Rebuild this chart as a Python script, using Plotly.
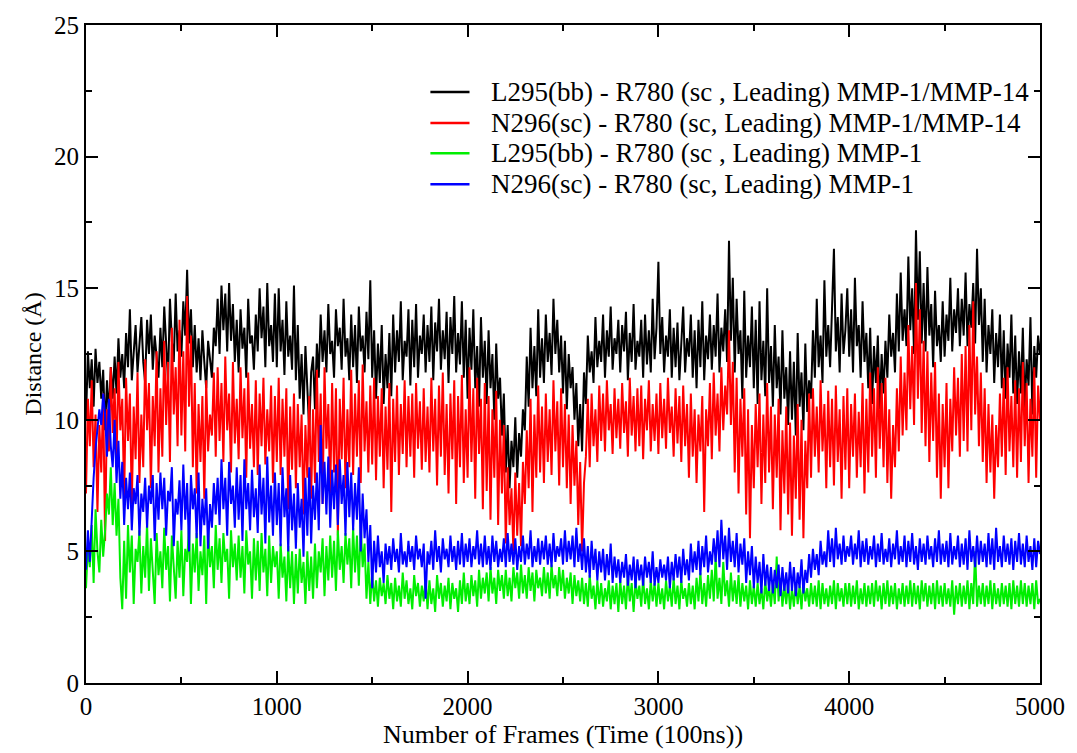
import plotly.graph_objects as go

FRAMES = list(range(0, 5001, 10))

BLACK = [
    10.0, 12.6, 11.2, 12.3, 10.5, 12.7, 11.4, 12.2, 10.8, 11.9,
    9.6, 11.5, 10.2, 12.0, 10.8, 12.4, 11.0, 13.1, 11.6, 12.5,
    11.2, 13.3, 12.0, 14.2, 11.5, 12.8, 13.6, 11.8, 12.9, 13.9,
    12.2, 11.4, 13.8, 12.5, 14.0, 11.9, 13.2, 12.4, 11.6, 13.5,
    12.0, 14.3, 12.8, 11.5, 14.6, 13.0, 12.2, 14.8, 12.6, 13.4,
    12.4, 14.5, 13.2, 15.7, 12.9, 14.2, 12.0, 13.6, 11.8, 13.1,
    11.5, 13.4, 12.2, 11.2, 13.0, 12.4, 11.6, 13.5, 12.8, 14.6,
    12.5, 15.1, 13.4, 14.8, 12.6, 15.2, 13.0, 14.4, 12.2, 13.8,
    11.8, 14.2, 12.7, 13.5, 11.6, 14.6, 12.9, 13.2, 11.9, 14.0,
    12.6, 15.0, 13.1, 14.3, 12.0, 15.2, 12.8, 13.6, 12.2, 14.8,
    12.0, 15.0, 12.6, 13.8, 11.7, 14.5, 12.4, 13.2, 11.9, 15.1,
    11.5, 13.6, 10.8, 12.5, 10.2, 12.8, 11.0, 9.6, 11.8, 12.4,
    10.4, 12.9, 11.6, 14.0, 12.2, 13.4, 11.8, 14.4, 12.5, 13.0,
    11.6, 14.2, 12.8, 13.5, 11.9, 14.6, 12.4, 13.1, 11.5, 14.0,
    12.0, 13.6, 11.4, 14.3, 12.6, 13.2, 11.8, 14.1, 12.3, 15.3,
    11.6, 13.4, 10.8, 12.9, 11.4, 13.6, 10.6, 12.5, 11.2, 13.3,
    10.9, 14.0, 11.8, 13.4, 12.2, 14.5, 11.5, 13.0, 12.4, 14.2,
    11.3, 13.8, 12.0, 14.4, 11.6, 13.2, 12.5, 14.0, 11.8, 13.6,
    12.2, 14.3, 11.5, 13.7, 12.6, 14.6, 11.9, 13.4, 12.3, 14.1,
    11.4, 13.9, 12.5, 14.7, 11.8, 13.3, 12.1, 14.5, 11.6, 13.8,
    10.8, 13.5, 11.9, 14.2, 11.2, 12.8, 10.5, 13.9, 11.6, 13.0,
    10.6, 13.4, 11.2, 12.5, 10.0, 12.9, 10.8, 11.6, 9.4, 11.0,
    8.0, 9.8, 7.4, 9.2, 8.2, 10.1, 7.8, 9.5, 8.6, 10.4,
    9.6, 12.4, 10.5, 13.5, 11.2, 12.8, 10.9, 14.2, 11.6, 13.1,
    11.4, 14.0, 12.2, 13.3, 11.7, 14.6, 12.5, 13.8, 11.8, 13.2,
    11.0, 13.0, 10.4, 12.5, 11.2, 12.0, 10.0, 11.4, 9.0, 10.6,
    8.8, 11.8, 10.6, 13.2, 11.8, 12.6, 11.4, 13.9, 12.0, 13.0,
    12.2, 14.0, 11.6, 13.4, 12.4, 14.3, 11.9, 13.1, 12.5, 13.8,
    11.8, 13.6, 12.6, 14.1, 11.5, 13.3, 12.2, 14.4, 11.9, 13.0,
    12.4, 13.8, 11.6, 14.0, 12.1, 13.4, 11.8, 14.6, 12.3, 13.5,
    16.0, 12.5, 13.9, 11.8, 13.2, 12.4, 14.2, 11.6, 13.5, 12.0,
    13.7, 11.5, 12.9, 14.3, 11.8, 13.1, 12.4, 14.0, 11.6, 13.4,
    11.2, 13.8, 12.0, 14.5, 11.5, 13.2, 12.3, 14.0, 11.9, 13.6,
    12.4, 14.8, 11.8, 13.5, 12.6, 14.2, 12.2, 16.8, 13.0, 15.4,
    11.8, 14.6, 12.5, 13.4, 10.8, 14.9, 11.6, 13.2, 12.0, 14.3,
    11.2, 13.8, 10.6, 14.5, 11.5, 13.0, 10.9, 15.0, 11.4, 12.8,
    10.5, 13.6, 11.2, 12.4, 10.2, 13.4, 10.8, 12.0, 9.8, 12.6,
    10.0, 12.2, 9.4, 13.3, 10.5, 11.8, 9.6, 12.9, 10.3, 11.5,
    10.8, 13.4, 11.6, 14.6, 12.0, 13.2, 11.4, 15.3, 12.4, 13.6,
    12.0, 14.4, 16.5, 12.6, 13.9, 11.8, 14.8, 12.5, 13.4, 15.0,
    12.4, 14.2, 11.8, 15.4, 12.8, 13.6, 11.6, 14.5, 12.2, 13.3,
    11.2, 13.5, 10.6, 12.8, 11.4, 13.2, 10.4, 12.5, 11.0, 13.0,
    11.6, 14.0, 12.4, 13.3, 11.8, 14.8, 12.6, 15.6, 13.0, 14.2,
    12.8, 16.2, 13.4, 15.0, 12.5, 17.2, 13.8, 16.4, 12.9, 15.2,
    12.6, 15.8, 13.2, 14.4, 12.0, 14.9, 12.8, 13.6, 12.2, 14.5,
    12.4, 14.0, 13.0, 15.4, 12.6, 14.2, 13.3, 15.0, 12.8, 14.6,
    13.2, 15.6, 12.8, 14.4, 13.5, 15.2, 12.9, 16.5, 13.6, 15.0,
    12.2, 14.6, 11.8, 13.6, 12.5, 14.2, 11.4, 13.3, 12.0, 14.0,
    11.2, 13.4, 10.8, 12.9, 11.6, 14.0, 11.0, 13.2, 10.6, 12.6,
    11.0, 13.5, 10.4, 12.3, 11.3, 13.9, 10.2, 12.8, 11.6, 13.2,
    12.5,
]

RED = [
    7.2, 10.8, 9.0, 11.5, 8.2, 10.2, 6.5, 9.8, 8.0, 11.0,
    5.4, 10.4, 8.8, 12.0, 9.5, 11.2, 8.4, 12.2, 9.6, 10.8,
    7.0, 11.6, 9.2, 11.0, 6.8, 10.5, 8.5, 11.8, 7.6, 10.2,
    8.2, 12.3, 9.6, 11.4, 7.4, 10.9, 9.0, 12.6, 8.0, 11.2,
    8.6, 13.0, 9.8, 12.2, 8.4, 13.5, 10.2, 12.0, 9.0, 13.8,
    9.4, 12.6, 8.8, 14.7, 10.5, 13.2, 8.2, 11.4, 7.2, 10.6,
    8.4, 10.9, 7.0, 11.5, 8.8, 10.2, 9.4, 11.8, 8.6, 12.0,
    9.2, 11.4, 8.4, 12.4, 9.6, 11.0, 8.0, 12.2, 9.1, 10.8,
    8.5, 12.0, 9.3, 11.2, 7.8, 11.8, 8.9, 10.6, 8.2, 11.5,
    7.9, 11.0, 9.0, 11.6, 8.3, 10.4, 8.8, 11.3, 7.6, 10.9,
    8.4, 11.6, 7.9, 10.8, 8.6, 11.2, 6.6, 10.5, 8.1, 11.0,
    7.4, 10.6, 8.2, 10.2, 6.4, 9.8, 7.8, 10.9, 7.0, 10.4,
    7.6, 11.9, 8.4, 11.0, 6.8, 12.0, 8.9, 10.6, 7.2, 11.4,
    8.0, 11.2, 5.6, 10.8, 8.5, 11.6, 7.4, 10.4, 8.2, 11.9,
    7.9, 11.0, 8.6, 11.5, 7.6, 12.1, 8.8, 10.7, 8.0, 11.3,
    8.3, 11.6, 7.7, 10.9, 8.6, 11.2, 7.4, 10.5, 8.1, 11.4,
    6.5, 10.8, 8.4, 11.3, 7.9, 10.6, 8.7, 11.5, 8.2, 10.9,
    8.6, 11.0, 7.8, 11.4, 8.9, 10.7, 8.1, 11.2, 8.4, 10.5,
    8.0, 11.6, 8.8, 10.8, 7.5, 11.3, 8.6, 11.8, 7.9, 10.6,
    7.2, 11.0, 8.5, 11.5, 6.8, 10.9, 8.2, 11.7, 7.6, 10.4,
    7.8, 12.0, 8.4, 11.2, 7.0, 11.6, 8.7, 10.8, 6.6, 11.4,
    7.3, 10.9, 6.2, 10.4, 7.8, 11.1, 6.0, 10.0, 7.2, 9.8,
    5.3, 8.2, 6.0, 7.4, 5.0, 8.0, 5.6, 7.6, 5.2, 8.4,
    6.8, 9.6, 7.4, 10.8, 6.5, 10.2, 7.8, 11.3, 8.0, 10.5,
    7.6, 11.0, 8.4, 10.4, 7.9, 11.5, 8.8, 10.7, 7.5, 11.2,
    8.2, 10.6, 7.4, 10.2, 6.8, 9.8, 7.5, 9.2, 6.0, 8.4,
    5.0, 7.6, 8.6, 10.8, 8.2, 11.0, 9.0, 10.4, 8.4, 11.3,
    9.2, 11.0, 8.8, 11.5, 9.6, 10.6, 8.7, 11.2, 9.3, 10.8,
    8.9, 11.4, 9.5, 10.7, 8.6, 11.6, 9.4, 10.9, 8.8, 11.2,
    9.0, 11.3, 8.5, 10.8, 9.6, 11.5, 8.8, 10.6, 9.2, 11.0,
    8.7, 11.4, 9.3, 10.8, 8.9, 11.6, 9.5, 10.5, 8.6, 11.2,
    9.1, 10.9, 8.4, 11.3, 9.0, 10.6, 7.8, 11.0, 8.6, 10.4,
    7.6, 10.2, 8.8, 10.9, 6.5, 10.4, 9.0, 11.4, 8.5, 11.8,
    9.4, 11.0, 8.8, 12.0, 9.6, 11.3, 10.2, 13.4, 9.8, 12.2,
    8.0, 11.6, 7.2, 10.8, 8.6, 11.2, 6.4, 10.4, 5.5, 9.8,
    7.4, 10.6, 8.2, 11.0, 6.8, 10.2, 7.6, 11.4, 8.0, 10.5,
    6.6, 10.2, 7.8, 10.8, 5.8, 9.6, 7.2, 10.5, 6.4, 9.9,
    5.6, 9.4, 7.0, 10.6, 6.2, 10.0, 5.5, 9.2, 7.4, 11.0,
    7.8, 11.2, 8.6, 10.5, 8.0, 11.5, 8.8, 10.6, 7.4, 11.1,
    8.2, 10.8, 7.5, 11.3, 8.4, 10.4, 7.0, 10.9, 8.1, 11.2,
    7.4, 10.6, 8.6, 11.0, 7.8, 10.3, 8.2, 11.4, 7.2, 10.8,
    8.0, 11.8, 8.6, 11.2, 7.8, 12.0, 8.9, 11.4, 8.2, 11.6,
    7.6, 10.4, 7.0, 9.8, 8.2, 11.2, 8.8, 12.4, 9.4, 11.8,
    9.6, 13.6, 10.4, 12.8, 9.8, 15.2, 10.8, 14.2, 9.5, 13.0,
    9.0, 12.6, 8.4, 11.8, 9.2, 12.2, 7.8, 11.0, 7.0, 10.6,
    8.2, 11.4, 7.4, 10.8, 8.8, 12.0, 9.4, 11.6, 8.6, 12.5,
    9.2, 12.8, 8.8, 13.6, 9.6, 14.5, 10.2, 12.4, 9.0, 11.8,
    8.4, 11.2, 7.6, 10.6, 8.0, 10.2, 7.0, 9.8, 8.2, 11.0,
    8.6, 11.6, 7.9, 12.0, 8.8, 10.9, 8.2, 11.5, 7.8, 11.2,
    8.4, 12.2, 9.0, 11.4, 7.6, 10.8, 8.6, 12.0, 7.8, 11.3,
    10.0,
]

GREEN = [
    3.6, 5.2, 4.4, 6.0, 3.8, 6.6, 5.0, 4.2, 6.2, 4.8,
    5.8, 7.2, 6.4, 8.2, 6.0, 7.6, 5.6, 7.0, 4.0, 2.8,
    5.4, 3.2, 6.0, 4.2, 5.6, 3.0, 5.1, 4.6, 5.8, 3.4,
    5.2, 4.0, 6.1, 3.5, 5.5, 4.4, 3.0, 5.7, 4.1, 5.0,
    3.6, 5.9, 4.3, 5.2, 3.1, 5.6, 4.5, 3.2, 5.4, 4.0,
    5.8, 3.3, 5.1, 4.6, 6.0, 3.0, 5.3, 4.2, 5.7, 3.5,
    5.0, 4.1, 5.6, 3.0, 5.9, 4.4, 5.2, 3.6, 6.0, 4.3,
    5.5, 3.8, 5.7, 4.6, 5.1, 3.2, 5.8, 4.4, 5.3, 3.9,
    5.6, 4.0, 5.2, 3.4, 5.8, 4.5, 5.0, 3.2, 5.5, 3.9,
    5.4, 3.5, 5.7, 4.2, 5.1, 3.3, 5.6, 3.8, 5.2, 4.4,
    5.0, 3.2, 5.3, 4.0, 4.8, 3.1, 5.2, 3.6, 5.0, 3.0,
    4.9, 3.4, 5.1, 3.8, 4.6, 3.0, 5.0, 3.5, 4.8, 3.2,
    5.3, 3.6, 5.0, 4.2, 5.5, 3.3, 5.2, 3.9, 5.6, 4.0,
    5.4, 3.5, 5.8, 4.3, 5.2, 3.8, 5.7, 4.5, 5.5, 3.6,
    5.9, 4.2, 5.6, 3.7, 6.0, 4.4, 5.3, 3.2, 4.6, 3.0,
    4.2, 3.1, 3.9, 2.9, 4.0, 3.3, 3.8, 3.0, 4.1, 3.2,
    3.8, 2.8, 4.0, 3.1, 3.7, 2.9, 4.2, 3.2, 3.9, 3.0,
    3.6, 2.8, 4.1, 3.3, 3.8, 2.9, 3.7, 3.1, 4.0, 2.8,
    3.9, 3.0, 3.6, 2.7, 4.1, 3.2, 3.8, 2.9, 3.7, 3.1,
    4.0, 2.8, 3.8, 3.2, 3.6, 2.7, 3.9, 3.0, 4.2, 3.1,
    3.8, 3.0, 4.1, 3.3, 3.9, 2.9, 4.3, 3.2, 4.0, 3.4,
    4.2, 3.1, 4.4, 3.4, 4.0, 3.0, 4.3, 3.5, 4.1, 3.2,
    4.3, 3.3, 4.0, 3.1, 4.4, 3.6, 4.2, 3.2, 4.5, 3.4,
    4.1, 3.2, 4.4, 3.5, 4.2, 3.1, 4.3, 3.6, 4.0, 3.3,
    4.4, 3.4, 4.2, 3.2, 4.5, 3.6, 4.1, 3.3, 4.4, 3.5,
    4.3, 3.2, 4.0, 3.4, 4.2, 3.0, 4.1, 3.3, 3.9, 3.1,
    4.0, 3.0, 3.8, 2.9, 4.1, 3.2, 3.7, 2.8, 3.9, 3.0,
    3.8, 2.9, 3.6, 3.1, 3.9, 2.8, 3.7, 3.0, 3.8, 2.7,
    3.9, 3.0, 3.7, 2.8, 4.1, 3.1, 3.8, 2.7, 3.9, 3.2,
    3.7, 2.9, 4.0, 3.0, 3.6, 2.8, 3.9, 3.1, 3.8, 2.9,
    3.8, 3.0, 3.6, 2.8, 3.9, 3.1, 3.7, 2.9, 4.0, 3.0,
    3.7, 2.8, 3.9, 3.2, 3.6, 2.9, 3.8, 3.0, 3.7, 2.8,
    4.0, 3.1, 4.2, 3.0, 3.8, 2.9, 4.1, 3.2, 4.3, 3.1,
    4.8, 3.2, 4.0, 3.0, 4.6, 3.3, 3.9, 2.9, 4.2, 3.1,
    3.9, 3.0, 4.1, 2.9, 3.8, 3.1, 3.7, 2.8, 3.9, 3.0,
    3.7, 2.9, 3.8, 3.0, 3.6, 2.8, 3.9, 3.1, 3.7, 2.9,
    3.8, 3.0, 4.8, 3.1, 4.0, 2.9, 3.7, 3.0, 3.8, 2.8,
    3.6, 2.9, 3.8, 3.0, 3.7, 2.8, 3.9, 3.1, 3.6, 2.9,
    3.8, 3.0, 3.7, 2.9, 3.9, 2.8, 3.8, 3.0, 3.6, 2.9,
    3.7, 3.0, 3.9, 2.8, 3.8, 3.1, 3.6, 2.9, 3.8, 3.0,
    3.8, 2.9, 3.7, 3.0, 3.9, 2.8, 3.6, 3.0, 3.8, 2.9,
    3.7, 3.0, 3.8, 2.9, 3.9, 3.1, 3.7, 2.8, 3.8, 3.0,
    3.9, 2.9, 3.7, 3.0, 3.8, 2.8, 3.6, 3.0, 3.8, 2.9,
    3.7, 3.0, 3.9, 2.9, 3.8, 3.0, 3.7, 2.8, 3.9, 3.1,
    3.8, 2.9, 3.7, 3.0, 3.8, 2.8, 3.9, 3.0, 3.7, 2.9,
    3.8, 3.0, 3.6, 2.9, 3.9, 2.6, 3.7, 3.0, 3.8, 2.9,
    3.7, 3.0, 3.9, 2.8, 3.8, 3.0, 5.0, 2.9, 3.7, 3.0,
    3.8, 2.9, 3.7, 3.0, 3.9, 2.8, 3.8, 3.0, 3.6, 2.9,
    3.8, 3.0, 3.7, 2.9, 3.8, 2.8, 3.9, 3.0, 3.7, 2.9,
    3.9, 3.0, 3.8, 2.9, 3.7, 3.0, 3.8, 2.8, 3.9, 3.0,
    3.2,
]

BLUE = [
    4.3, 5.8, 4.6, 6.4, 7.8, 8.9, 9.6, 10.4, 9.8, 11.0,
    10.2, 8.6, 10.8, 9.0, 8.2, 10.0, 7.6, 9.2, 7.0, 8.4,
    6.0, 7.8, 6.6, 8.0, 5.8, 7.4, 6.8, 7.9, 5.6, 7.2,
    6.5, 7.8, 5.9, 7.5, 6.8, 7.9, 5.4, 7.6, 6.2, 8.0,
    6.6, 7.8, 5.6, 7.3, 6.9, 8.2, 5.2, 7.0, 6.4, 7.7,
    5.8, 8.3, 6.2, 7.6, 5.0, 7.9, 6.6, 7.4, 5.5, 8.0,
    5.2, 7.0, 6.0, 7.4, 5.1, 6.8, 5.9, 7.6, 6.4, 7.8,
    6.0, 8.5, 6.6, 7.8, 5.6, 8.4, 6.8, 7.5, 5.9, 8.2,
    6.2, 7.9, 5.4, 8.5, 6.6, 7.6, 5.8, 8.1, 6.3, 7.4,
    5.7, 8.3, 6.4, 7.8, 5.3, 8.6, 6.1, 7.5, 5.6, 8.0,
    6.0, 7.6, 5.2, 8.2, 6.3, 7.4, 5.0, 7.9, 5.8, 7.2,
    5.1, 7.6, 5.9, 7.0, 4.8, 7.8, 5.6, 8.2, 5.3, 7.5,
    6.2, 8.0, 5.8, 9.8, 6.8, 8.4, 6.4, 8.6, 5.9, 8.1,
    6.6, 8.3, 6.0, 8.5, 6.8, 7.9, 5.6, 8.4, 6.3, 8.0,
    5.8, 7.6, 6.2, 8.2, 5.0, 7.2, 5.5, 6.6, 4.6, 6.0,
    3.6, 5.4, 4.2, 5.6, 4.4, 5.0, 3.8, 5.3, 4.5, 5.2,
    4.3, 5.5, 4.6, 5.1, 4.2, 5.7, 4.5, 5.0, 4.4, 5.4,
    4.6, 5.2, 4.3, 5.6, 4.7, 5.1, 4.4, 5.3, 3.2, 5.0,
    4.5, 5.4, 4.3, 5.8, 4.6, 5.2, 4.2, 5.5, 4.7, 5.1,
    4.4, 5.6, 4.6, 5.2, 4.3, 5.4, 4.5, 5.7, 4.4, 5.3,
    4.6, 5.5, 4.4, 5.2, 4.7, 5.8, 4.5, 5.3, 4.4, 5.6,
    4.5, 5.2, 4.3, 5.6, 4.6, 5.4, 4.4, 5.1, 4.6, 5.5,
    4.4, 5.7, 4.6, 5.3, 4.5, 5.5, 4.3, 5.2, 4.6, 5.6,
    4.5, 5.3, 4.7, 5.8, 4.4, 5.2, 4.6, 5.5, 4.5, 5.4,
    4.7, 5.6, 4.5, 5.3, 4.4, 5.7, 4.6, 5.2, 4.8, 5.5,
    4.5, 5.8, 4.6, 5.4, 4.7, 5.6, 4.4, 5.9, 4.6, 5.3,
    4.3, 5.5, 4.2, 5.2, 4.0, 5.4, 4.3, 5.1, 3.9, 5.0,
    4.2, 5.1, 3.9, 4.9, 4.1, 5.3, 3.8, 4.8, 4.0, 4.7,
    3.8, 4.6, 4.0, 4.9, 3.7, 4.5, 3.9, 4.8, 3.6, 4.7,
    3.9, 4.5, 3.7, 4.8, 4.0, 4.6, 3.8, 5.0, 3.7, 4.4,
    3.8, 4.7, 4.0, 4.5, 3.9, 4.8, 3.6, 4.6, 3.9, 4.9,
    4.0, 4.8, 3.8, 5.1, 4.1, 4.7, 3.9, 5.3, 4.2, 5.0,
    4.3, 5.4, 4.1, 5.2, 4.4, 5.6, 4.2, 5.0, 4.5, 5.5,
    4.6, 5.8, 4.4, 6.2, 4.7, 5.6, 4.3, 5.9, 4.6, 5.4,
    4.4, 5.7, 4.2, 5.3, 4.5, 5.5, 3.8, 5.0, 4.1, 5.2,
    3.6, 4.8, 3.8, 4.6, 3.4, 4.9, 3.7, 4.5, 3.5, 4.4,
    3.4, 4.3, 3.6, 4.5, 3.3, 4.4, 3.5, 4.2, 3.4, 4.6,
    3.5, 4.4, 3.3, 4.2, 3.6, 4.7, 3.4, 4.3, 3.8, 4.9,
    4.0, 5.1, 4.3, 4.9, 4.1, 5.4, 4.5, 5.0, 4.4, 5.8,
    4.6, 5.5, 4.4, 5.9, 4.7, 5.3, 4.5, 5.6, 4.6, 5.2,
    4.8, 5.6, 4.5, 5.3, 4.7, 5.8, 4.4, 5.4, 4.6, 5.5,
    4.5, 5.2, 4.7, 5.6, 4.4, 5.3, 4.6, 5.7, 4.5, 5.1,
    4.6, 5.5, 4.4, 5.3, 4.7, 5.8, 4.5, 5.2, 4.6, 5.6,
    4.4, 5.4, 4.6, 5.7, 4.5, 5.2, 4.3, 5.5, 4.6, 5.3,
    4.5, 5.6, 4.7, 5.2, 4.4, 5.5, 4.6, 5.8, 4.5, 5.3,
    4.6, 5.4, 4.4, 5.7, 4.5, 5.2, 4.7, 5.6, 4.4, 5.3,
    4.5, 5.5, 4.3, 5.8, 4.6, 5.2, 4.4, 5.6, 4.5, 5.4,
    4.6, 5.3, 4.4, 5.7, 4.5, 5.5, 4.3, 5.9, 4.6, 5.2,
    4.4, 5.6, 4.6, 5.3, 4.5, 5.5, 4.3, 5.4, 4.6, 5.7,
    4.5, 5.3, 4.4, 5.6, 4.6, 5.2, 4.3, 5.5, 4.4, 5.4,
    4.9,
]

NAMES = [
    "L295(bb) - R780 (sc , Leading) MMP-1/MMP-14",
    "N296(sc) - R780 (sc, Leading) MMP-1/MMP-14",
    "L295(bb) - R780 (sc , Leading) MMP-1",
    "N296(sc) - R780 (sc, Leading) MMP-1",
]
COLORS = ["#000000", "#ff0000", "#00ee00", "#0000ff"]
SERIES = [BLACK, RED, GREEN, BLUE]

FONT = "Liberation Serif"

fig = go.Figure()
for name, color, vals in zip(NAMES, COLORS, SERIES):
    fig.add_trace(go.Scatter(
        x=FRAMES, y=vals, mode="lines", name=name,
        line=dict(color=color, width=2), showlegend=False,
    ))

# legend drawn as swatches + text (paper coordinates)
LEG_Y = [0.898, 0.851, 0.805, 0.758]
shapes = []
annotations = []
for name, color, ly in zip(NAMES, COLORS, LEG_Y):
    shapes.append(dict(type="line", xref="paper", yref="paper",
                       x0=0.361, x1=0.402, y0=ly, y1=ly,
                       line=dict(color=color, width=2.5)))
    annotations.append(dict(xref="paper", yref="paper", x=0.4225, y=ly,
                            xanchor="left", yanchor="middle", showarrow=False,
                            text=name, font=dict(family=FONT, size=27, color="black")))

axis_common = dict(
    showline=True, linecolor="black", linewidth=2, mirror="ticks",
    ticks="inside", ticklen=12, tickwidth=2, tickcolor="black",
    showgrid=False, zeroline=False,
    tickfont=dict(family=FONT, size=25, color="black"),
)

fig.update_layout(
    width=1077, height=753,
    margin=dict(l=86, r=30, t=22, b=63),
    paper_bgcolor="white", plot_bgcolor="white",
    font=dict(family=FONT, color="black"),
    showlegend=False,
    shapes=shapes,
    annotations=annotations,
    xaxis=dict(
        range=[0, 5000], dtick=1000, tick0=0,
        minor=dict(dtick=500, ticks="inside", ticklen=6, tickwidth=2, tickcolor="black"),
        title=dict(text="Number of Frames (Time (100ns))", font=dict(family=FONT, size=26), standoff=3),
        **axis_common,
    ),
    yaxis=dict(
        range=[0, 25], dtick=5, tick0=0,
        minor=dict(dtick=2.5, ticks="inside", ticklen=6, tickwidth=2, tickcolor="black"),
        title=dict(text="Distance (Å)", font=dict(family=FONT, size=24), standoff=6),
        **axis_common,
    ),
)

fig.write_html("out.html")
